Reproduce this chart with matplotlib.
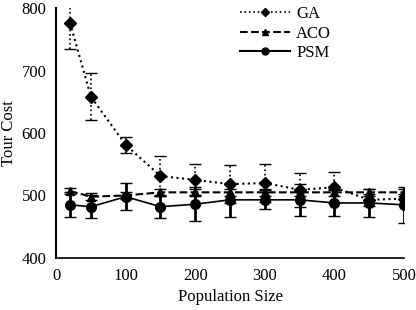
import matplotlib
matplotlib.use("Agg")
import matplotlib.pyplot as plt
from matplotlib.lines import Line2D

pop = [20, 50, 100, 150, 200, 250, 300, 350, 400, 450, 500]
ga = [776, 658, 581, 531, 525, 518, 520, 509, 513, 493, 495]
ga_err = [42, 38, 13, 32, 25, 30, 30, 27, 25, 10, 8]
aco = [507, 498, 500, 505, 505, 505, 505, 505, 505, 505, 505]
aco_err = [5, 6, 5, 6, 6, 6, 6, 6, 6, 6, 6]
psm = [485, 482, 498, 482, 486, 493, 493, 493, 488, 488, 485]
psm_err = [20, 18, 22, 18, 27, 27, 15, 26, 21, 22, 29]

plt.rcParams['font.family'] = ['Liberation Serif', 'DejaVu Serif']
fig = plt.figure(figsize=(4.16, 3.10), dpi=100)
ax = fig.add_axes([0.135, 0.168, 0.836, 0.806])

eb = ax.errorbar(pop, ga, yerr=ga_err, color='black', linestyle=':', marker='D',
                 markersize=6, capsize=4, elinewidth=1.2, linewidth=1.5)
eb[-1][0].set_linestyle(':')
eb = ax.errorbar(pop, aco, yerr=aco_err, color='black', linestyle='--', marker='^',
                 markersize=6, capsize=4, elinewidth=1.2, linewidth=1.5)
eb[-1][0].set_linestyle('--')
ax.errorbar(pop, psm, yerr=psm_err, color='black', linestyle='-', marker='o',
            markersize=7, capsize=4, elinewidth=2, linewidth=1.2)

handles = [
    Line2D([], [], color='black', linestyle=':', marker='D', markersize=4, linewidth=1.2),
    Line2D([], [], color='black', linestyle='--', marker='^', markersize=5, linewidth=1.5),
    Line2D([], [], color='black', linestyle='-', marker='o', markersize=5, linewidth=1.5),
]
ax.legend(handles, ['GA', 'ACO', 'PSM'], loc='upper right', frameon=False,
          fontsize=12, handlelength=3.0, handletextpad=0.4,
          borderaxespad=0.0, bbox_to_anchor=(0.81, 1.035), labelspacing=0.22)

ax.set_xlim(0, 500)
ax.set_ylim(400, 800)
ax.set_xticks([0, 100, 200, 300, 400, 500])
ax.set_yticks([400, 500, 600, 700, 800])
ax.tick_params(length=0, labelsize=12, pad=7)
for s in ['top', 'right']:
    ax.spines[s].set_visible(False)
ax.spines['left'].set_linewidth(1.5)
ax.spines['bottom'].set_linewidth(1.2)
ax.set_xlabel('Population Size', fontsize=12, labelpad=4)
ax.set_ylabel('Tour Cost', fontsize=12)
ax.yaxis.set_label_coords(-0.112, 0.5)
fig.savefig('out.png', dpi=100)
